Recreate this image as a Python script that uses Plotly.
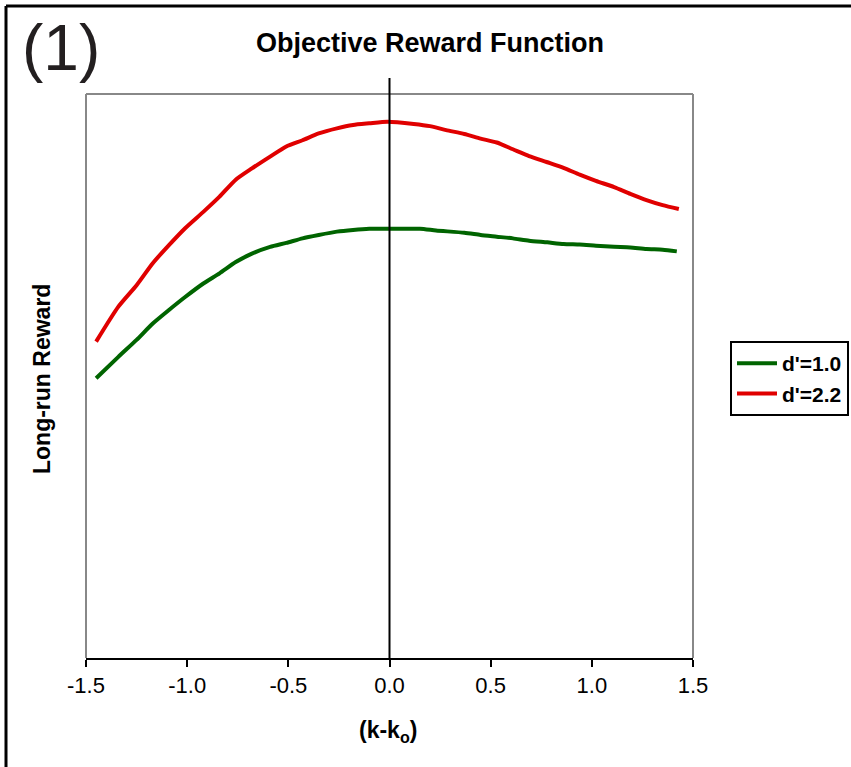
import plotly.graph_objects as go

# d'=1.0 (green) and d'=2.2 (red) long-run reward vs (k - k_o)
x_green = [-1.45, -1.34, -1.25, -1.17, -1.09, -1.01, -0.92, -0.84, -0.76, -0.68, -0.59, -0.51,
           -0.43, -0.35, -0.26, -0.18, -0.10, -0.01, 0.15, 0.23, 0.37, 0.45, 0.53, 0.61, 0.69,
           0.78, 0.86, 0.94, 1.02, 1.11, 1.19, 1.27, 1.35, 1.42]
y_green = [0.496, 0.534, 0.564, 0.593, 0.617, 0.640, 0.664, 0.682, 0.702, 0.717, 0.729, 0.736,
           0.744, 0.750, 0.756, 0.759, 0.761, 0.761, 0.761, 0.758, 0.754, 0.750, 0.747, 0.744,
           0.740, 0.737, 0.734, 0.733, 0.731, 0.729, 0.728, 0.725, 0.724, 0.721]

x_red = [-1.45, -1.34, -1.25, -1.17, -1.09, -1.01, -0.92, -0.84, -0.76, -0.68, -0.59, -0.51,
         -0.43, -0.35, -0.26, -0.18, -0.10, -0.01, 0.12, 0.20, 0.28, 0.37, 0.45, 0.53, 0.61,
         0.69, 0.78, 0.86, 0.94, 1.02, 1.11, 1.19, 1.27, 1.35, 1.43]
y_red = [0.561, 0.623, 0.661, 0.700, 0.732, 0.762, 0.791, 0.818, 0.848, 0.868, 0.889, 0.907,
         0.918, 0.930, 0.939, 0.945, 0.948, 0.951, 0.947, 0.943, 0.936, 0.929, 0.921, 0.914,
         0.902, 0.890, 0.879, 0.869, 0.857, 0.846, 0.835, 0.823, 0.812, 0.803, 0.796]

tick_vals = [-1.5, -1.0, -0.5, 0.0, 0.5, 1.0, 1.5]
tick_text = ["-1.5", "-1.0", "-0.5", "0.0", "0.5", "1.0", "1.5"]

FONT = "Liberation Sans, Arial, sans-serif"

fig = go.Figure()
fig.add_trace(go.Scatter(x=x_green, y=y_green, mode="lines", name="d'=1.0",
                         line=dict(color="#006400", width=4, shape="spline", smoothing=0.6)))
fig.add_trace(go.Scatter(x=x_red, y=y_red, mode="lines", name="d'=2.2",
                         line=dict(color="#e00000", width=4, shape="spline", smoothing=0.6)))

L, R, T, B = 86, 693, 94, 658
W, H = 851, 767
def px(xp):
    return (xp - L) / (R - L)
def py(yp):
    return (B - yp) / (B - T)

fig.update_layout(
    width=W, height=H,
    margin=dict(l=L, r=W - R, t=T, b=H - B, pad=0, autoexpand=False),
    paper_bgcolor="white", plot_bgcolor="white",
    font=dict(family=FONT, color="black"),
    showlegend=True,
    legend=dict(x=px(730), y=py(341), xanchor="left", yanchor="top",
                bordercolor="black", borderwidth=2, bgcolor="white",
                font=dict(family=FONT, size=21, color="black", weight="bold"),
                itemwidth=40),
    xaxis=dict(range=[-1.5, 1.5], tickvals=tick_vals, ticktext=tick_text,
               showgrid=False, zeroline=False, showline=True, linecolor="black", linewidth=2,
               ticks="outside", ticklen=7, tickwidth=2, tickcolor="black",
               tickfont=dict(family=FONT, size=22, color="black")),
    yaxis=dict(range=[0, 1], showticklabels=False, showgrid=False, zeroline=False,
               ticks="", showline=False),
    shapes=[
        # gray plot border (left, top, right)
        dict(type="line", xref="paper", yref="paper", x0=0, x1=0, y0=0, y1=1,
             line=dict(color="#888888", width=2)),
        dict(type="line", xref="paper", yref="paper", x0=0, x1=1, y0=1, y1=1,
             line=dict(color="#888888", width=2)),
        dict(type="line", xref="paper", yref="paper", x0=1, x1=1, y0=0, y1=1,
             line=dict(color="#888888", width=2)),
        # vertical line at k = k_o
        dict(type="line", xref="x", yref="paper", x0=0, x1=0, y0=0, y1=py(78),
             line=dict(color="black", width=2), layer="above"),
        # outer frame (left and top edges visible)
        dict(type="line", xref="paper", yref="paper", x0=px(6), x1=px(6), y0=py(800), y1=py(6),
             line=dict(color="black", width=3)),
        dict(type="line", xref="paper", yref="paper", x0=px(6), x1=px(900), y0=py(6), y1=py(6),
             line=dict(color="black", width=3)),
    ],
    annotations=[
        dict(text="<b>Objective Reward Function</b>", xref="paper", yref="paper",
             x=px(430), y=py(43), xanchor="center", yanchor="middle", showarrow=False,
             font=dict(family=FONT, size=27, color="black")),
        dict(text="(1)", xref="paper", yref="paper", x=px(61), y=py(48),
             xanchor="center", yanchor="middle", showarrow=False,
             font=dict(family=FONT, size=64, color="#231f20")),
        dict(text="<b>Long-run Reward</b>", xref="paper", yref="paper",
             x=px(42), y=py(379), xanchor="center", yanchor="middle", textangle=-90,
             showarrow=False, font=dict(family=FONT, size=23, color="black")),
        dict(text="<b>(k-k<sub>o</sub>)</b>", xref="paper", yref="paper",
             x=px(388), y=py(731), xanchor="center", yanchor="middle", showarrow=False,
             font=dict(family=FONT, size=23, color="black")),
    ],
)

fig.write_html("out.html", config={"displayModeBar": False},
               post_script="document.body.style.margin='0';document.body.style.overflow='hidden';")
